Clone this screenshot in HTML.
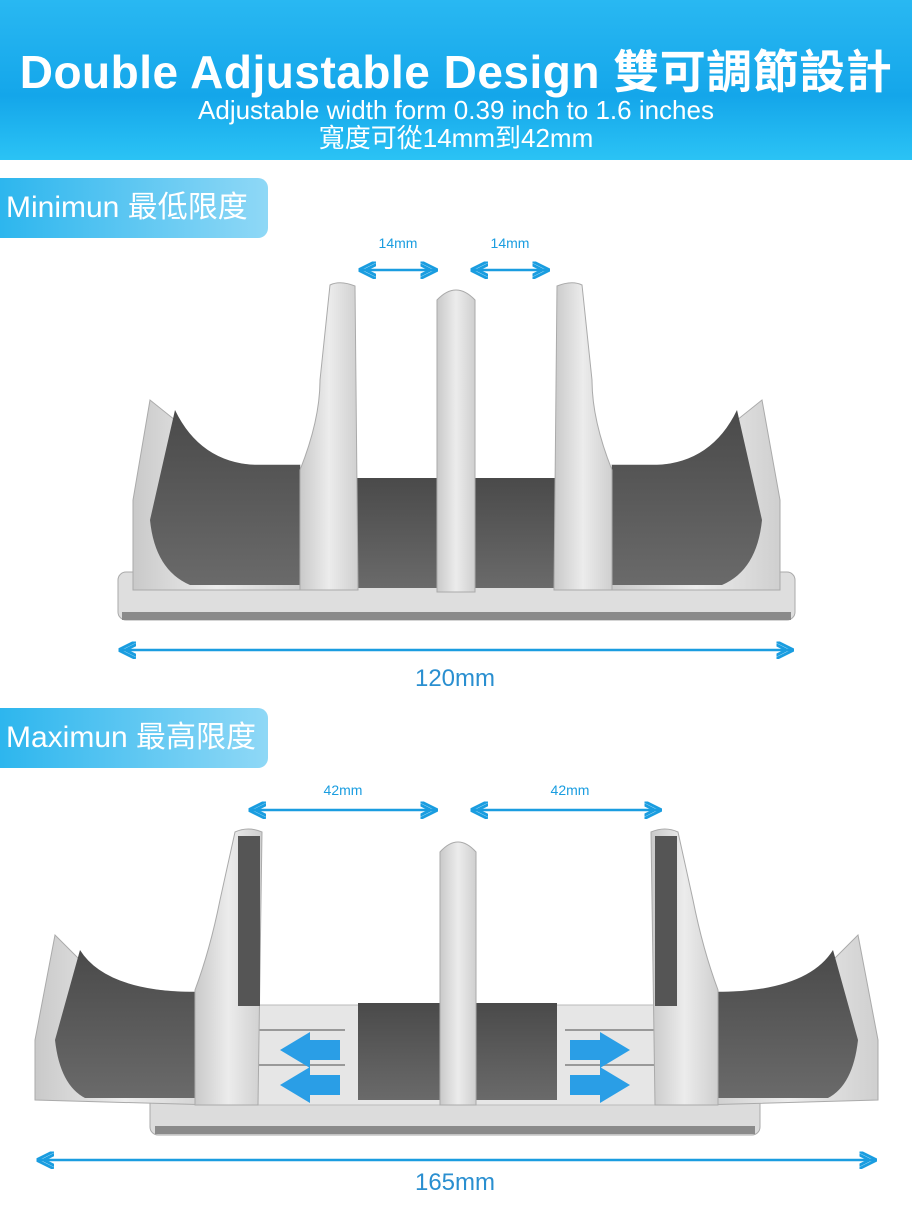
<!DOCTYPE html>
<html><head><meta charset="utf-8"><style>
html,body{margin:0;padding:0;background:#fff;}
body{width:912px;height:1218px;position:relative;overflow:hidden;font-family:"Liberation Sans","Noto Sans CJK TC",sans-serif;}
.hdr{position:absolute;left:0;top:0;width:912px;height:160px;background:linear-gradient(180deg,#29b8f2 0%,#14a6ea 60%,#2bc3f5 100%);}
.t1{position:absolute;left:0;width:912px;top:36px;text-align:center;color:#fff;font-weight:bold;font-size:46px;letter-spacing:0.5px;}
.t2{position:absolute;left:0;width:912px;top:96px;text-align:center;color:#fff;font-size:26px;line-height:28px;}
.lab{position:absolute;left:0;width:268px;height:60px;border-radius:0 10px 10px 0;background:linear-gradient(90deg,#2db6ee,#8fd8f6);color:#fff;font-size:30px;line-height:60px;padding-left:6px;box-sizing:border-box;}
svg{position:absolute;left:0;top:0;}
</style></head><body>
<div class="hdr"></div>
<div class="t1">Double Adjustable Design 雙可調節設計</div>
<div class="t2">Adjustable width form 0.39 inch to 1.6 inches<br>寬度可從14mm到42mm</div>
<div class="lab" style="top:178px">Minimun 最低限度</div>
<div class="lab" style="top:708px">Maximun 最高限度</div>
<svg width="912" height="1218" viewBox="0 0 912 1218">
<defs>
<linearGradient id="sv" x1="0" y1="0" x2="1" y2="0"><stop offset="0" stop-color="#c9c9c9"/><stop offset="0.5" stop-color="#ececec"/><stop offset="1" stop-color="#cfcfcf"/></linearGradient>
<linearGradient id="dk" x1="0" y1="0" x2="0" y2="1"><stop offset="0" stop-color="#4a4a4a"/><stop offset="1" stop-color="#6a6a6a"/></linearGradient>
<marker id="ah" viewBox="0 0 10 10" refX="9" refY="5" markerWidth="7" markerHeight="7" orient="auto-start-reverse"><path d="M0,0 L10,5 L0,10 M-4,0 L6,5 L-4,10" fill="none" stroke="#1a9de0" stroke-width="1.6"/></marker>
</defs>
<g font-family="Liberation Sans,sans-serif" fill="#1a9de0">
<text x="398" y="248" font-size="14" text-anchor="middle">14mm</text>
<text x="510" y="248" font-size="14" text-anchor="middle">14mm</text>
<text x="455" y="686" font-size="24" text-anchor="middle" fill="#2a8fd0">120mm</text>
<text x="343" y="795" font-size="14" text-anchor="middle">42mm</text>
<text x="570" y="795" font-size="14" text-anchor="middle">42mm</text>
<text x="455" y="1190" font-size="24" text-anchor="middle" fill="#2a8fd0">165mm</text>
</g>
<g stroke="#1a9de0" stroke-width="2.5" fill="none">
<line x1="360" y1="270" x2="436" y2="270" marker-start="url(#ah)" marker-end="url(#ah)"/>
<line x1="472" y1="270" x2="548" y2="270" marker-start="url(#ah)" marker-end="url(#ah)"/>
<line x1="120" y1="650" x2="792" y2="650" marker-start="url(#ah)" marker-end="url(#ah)"/>
<line x1="250" y1="810" x2="436" y2="810" marker-start="url(#ah)" marker-end="url(#ah)"/>
<line x1="472" y1="810" x2="660" y2="810" marker-start="url(#ah)" marker-end="url(#ah)"/>
<line x1="38" y1="1160" x2="875" y2="1160" marker-start="url(#ah)" marker-end="url(#ah)"/>
</g>
<!-- TOP STAND -->
<rect x="118" y="572" width="677" height="48" rx="8" fill="#dedede" stroke="#aaa"/>
<rect x="122" y="612" width="669" height="8" fill="#8a8a8a"/>
<path d="M133,590 L133,500 L150,400 L175,420 Q190,460 250,465 L300,465 L300,590 Z" fill="url(#sv)" stroke="#aaa"/>
<path d="M175,410 Q200,462 255,465 L300,465 L300,585 L190,585 Q155,570 150,520 Z" fill="url(#dk)"/>
<path d="M780,590 L780,500 L762,400 L737,420 Q722,460 662,465 L612,465 L612,590 Z" fill="url(#sv)" stroke="#aaa"/>
<path d="M737,410 Q712,462 657,465 L612,465 L612,585 L722,585 Q757,570 762,520 Z" fill="url(#dk)"/>
<rect x="345" y="478" width="92" height="110" fill="url(#dk)"/>
<rect x="475" y="478" width="92" height="110" fill="url(#dk)"/>
<path d="M300,590 L300,470 Q320,420 320,380 L330,285 Q340,280 355,286 L358,590 Z" fill="url(#sv)" stroke="#aaa"/>
<path d="M612,590 L612,470 Q592,420 592,380 L582,285 Q572,280 557,286 L554,590 Z" fill="url(#sv)" stroke="#aaa"/>
<path d="M437,592 L437,300 Q456,280 475,300 L475,592 Z" fill="url(#sv)" stroke="#aaa"/>
<!-- BOTTOM STAND -->
<rect x="150" y="1020" width="610" height="115" rx="8" fill="#dcdcdc" stroke="#aaa"/>
<rect x="155" y="1126" width="600" height="8" fill="#8a8a8a"/>
<rect x="230" y="1005" width="460" height="100" fill="#e6e6e6" stroke="#bbb"/>
<g stroke="#999" stroke-width="2"><line x1="255" y1="1030" x2="345" y2="1030"/><line x1="255" y1="1065" x2="345" y2="1065"/><line x1="565" y1="1030" x2="660" y2="1030"/><line x1="565" y1="1065" x2="660" y2="1065"/></g>
<path d="M35,1100 L35,1040 L55,935 L85,965 Q110,990 185,992 L215,992 L215,1105 Z" fill="url(#sv)" stroke="#aaa"/>
<path d="M80,950 Q105,990 190,992 L210,992 L210,1098 L85,1098 Q60,1085 55,1040 Z" fill="url(#dk)"/>
<path d="M878,1100 L878,1040 L858,935 L828,965 Q803,990 728,992 L698,992 L698,1105 Z" fill="url(#sv)" stroke="#aaa"/>
<path d="M833,950 Q808,990 723,992 L703,992 L703,1098 L828,1098 Q853,1085 858,1040 Z" fill="url(#dk)"/>
<rect x="358" y="1003" width="82" height="97" fill="url(#dk)"/>
<rect x="475" y="1003" width="82" height="97" fill="url(#dk)"/>
<path d="M195,1105 L195,990 Q210,950 220,900 L235,832 Q248,826 262,832 L258,1105 Z" fill="url(#sv)" stroke="#aaa"/>
<rect x="238" y="836" width="22" height="170" fill="#555"/>
<path d="M718,1105 L718,990 Q703,950 693,900 L678,832 Q665,826 651,832 L655,1105 Z" fill="url(#sv)" stroke="#aaa"/>
<rect x="655" y="836" width="22" height="170" fill="#555"/>
<path d="M440,1105 L440,852 Q458,832 476,852 L476,1105 Z" fill="url(#sv)" stroke="#aaa"/>
<g fill="#2a9ee6">
<path d="M340,1040 L310,1040 L310,1032 L280,1050 L310,1068 L310,1060 L340,1060 Z"/>
<path d="M340,1075 L310,1075 L310,1067 L280,1085 L310,1103 L310,1095 L340,1095 Z"/>
<path d="M570,1040 L600,1040 L600,1032 L630,1050 L600,1068 L600,1060 L570,1060 Z"/>
<path d="M570,1075 L600,1075 L600,1067 L630,1085 L600,1103 L600,1095 L570,1095 Z"/>
</g>
</svg>
</body></html>
